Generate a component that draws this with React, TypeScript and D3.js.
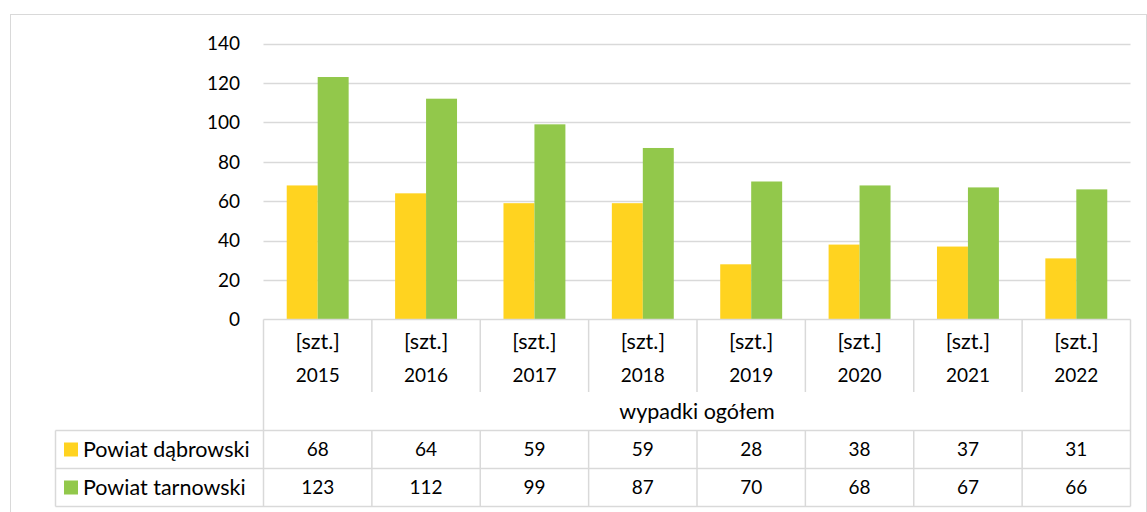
import React from 'react';
import * as d3 from 'd3';

const years = ['2015', '2016', '2017', '2018', '2019', '2020', '2021', '2022'];
const seriesNames = ['Powiat dąbrowski', 'Powiat tarnowski'];
const dabrowski = [68, 64, 59, 59, 28, 38, 37, 31];
const tarnowski = [123, 112, 99, 87, 70, 68, 67, 66];
const yTicks = [0, 20, 40, 60, 80, 100, 120, 140];
const unitLabel = '[szt.]';
const groupLabel = 'wypadki ogółem';

const colors = ['#FFD320', '#92C84B'];
const gridColor = '#d9d9d9';
const font = 'Lato, "Open Sans", sans-serif';
const numSize = 19;
const wordSize = 21.5;

function App() {
  const w = 1147,
    h = 512;
  const left = 263.5,
    right = 1130.5,
    legendLeft = 55.5;
  const series = [dabrowski, tarnowski];

  const x = d3.scaleBand<string>().domain(years).range([left, right]).paddingInner(0).paddingOuter(0);
  const xInner = d3
    .scaleBand<number>()
    .domain([0, 1])
    .range([0, x.bandwidth()])
    .paddingInner(0)
    .paddingOuter(0.75);
  const y = d3.scaleLinear().domain([0, 140]).range([319.5, 43.5]);

  // table rows
  const tableTop = 319.5;
  const headerBottom = 392;
  const groupBottom = 430.5;
  const row1Bottom = 468.5;
  const row2Bottom = 506.5;
  const rowBottoms = [row1Bottom, row2Bottom];
  const rowTops = [groupBottom, row1Bottom];

  const bounds = years.map((yr) => x(yr) as number).concat([right]);

  return (
    <svg width={w} height={h} style={{ position: 'absolute', left: 0, top: 0 }}>
      <rect x={0} y={0} width={w} height={h} fill="#fff" />
      <rect x={10.5} y={14.5} width={1136} height={520} fill="none" stroke={gridColor} />

      {yTicks.map((t) => (
        <g key={t}>
          {t > 0 && (
            <line x1={left} x2={right} y1={Math.round(y(t)) + 0.5} y2={Math.round(y(t)) + 0.5} stroke={gridColor} strokeWidth={1.5} />
          )}
          <text x={240} y={y(t)} dy="0.36em" textAnchor="end" fontFamily={font} fontSize={numSize} fill="#000">
            {t}
          </text>
        </g>
      ))}

      {years.map((yr, i) => (
        <g key={yr} transform={`translate(${x(yr)},0)`}>
          {series.map((vals, s) => (
            <rect
              key={s}
              x={xInner(s)}
              y={y(vals[i])}
              width={xInner.bandwidth()}
              height={y(0) - y(vals[i])}
              fill={colors[s]}
            />
          ))}
        </g>
      ))}

      {/* table lines */}
      <g stroke={gridColor} strokeWidth={1.5} fill="none">
        <line x1={left} x2={right} y1={tableTop} y2={tableTop} />
        {bounds.map((bx, i) => (
          <line
            key={'hv' + i}
            x1={bx}
            x2={bx}
            y1={tableTop}
            y2={i === 0 || i === bounds.length - 1 ? row2Bottom : headerBottom}
          />
        ))}
        {bounds.slice(1, -1).map((bx, i) => (
          <line key={'bv' + i} x1={bx} x2={bx} y1={groupBottom} y2={row2Bottom} />
        ))}
        <line x1={legendLeft} x2={right} y1={groupBottom} y2={groupBottom} />
        <line x1={legendLeft} x2={right} y1={row1Bottom} y2={row1Bottom} />
        <line x1={legendLeft} x2={right} y1={row2Bottom} y2={row2Bottom} />
        <line x1={legendLeft} x2={legendLeft} y1={groupBottom} y2={row2Bottom} />
      </g>

      <g fontFamily={font} fill="#000" textAnchor="middle">
        {years.map((yr) => (
          <g key={yr}>
            <text x={(x(yr) as number) + x.bandwidth() / 2} y={341.5} dy="0.36em" fontSize={wordSize}>
              {unitLabel}
            </text>
            <text x={(x(yr) as number) + x.bandwidth() / 2} y={375} dy="0.36em" fontSize={numSize}>
              {yr}
            </text>
          </g>
        ))}
        <text x={(left + right) / 2} y={(headerBottom + groupBottom) / 2} dy="0.36em" fontSize={wordSize}>
          {groupLabel}
        </text>
        {series.map((vals, s) =>
          years.map((yr, i) => (
            <text
              key={yr + s}
              x={(x(yr) as number) + x.bandwidth() / 2}
              y={(rowTops[s] + rowBottoms[s]) / 2}
              dy="0.36em"
              fontSize={numSize}
            >
              {vals[i]}
            </text>
          ))
        )}
      </g>

      {seriesNames.map((name, s) => {
        const cy = (rowTops[s] + rowBottoms[s]) / 2;
        return (
          <g key={name}>
            <rect x={64} y={cy - 7} width={14} height={14} fill={colors[s]} />
            <text x={83} y={cy} dy="0.36em" fontFamily={font} fontSize={wordSize} fill="#000">
              {name}
            </text>
          </g>
        );
      })}
    </svg>
  );
}

export default App;
